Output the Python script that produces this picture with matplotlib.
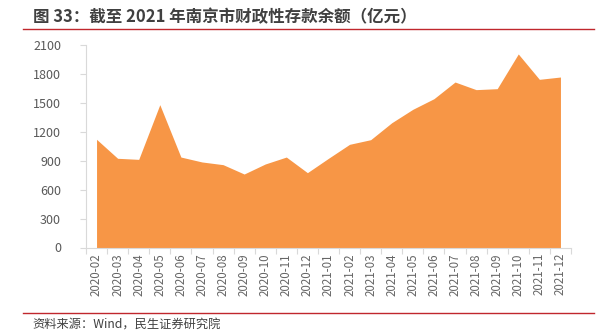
import matplotlib
matplotlib.use("Agg")
import matplotlib.pyplot as plt
from matplotlib.lines import Line2D
import numpy as np

plt.rcParams['font.family'] = ['Noto Sans CJK SC', 'DejaVu Sans']

months = ["2020-02", "2020-03", "2020-04", "2020-05", "2020-06", "2020-07",
          "2020-08", "2020-09", "2020-10", "2020-11", "2020-12", "2021-01",
          "2021-02", "2021-03", "2021-04", "2021-05", "2021-06", "2021-07",
          "2021-08", "2021-09", "2021-10", "2021-11", "2021-12"]
deposits = [1122, 925, 914, 1481, 938, 887, 859, 762, 866, 938, 776, 925,
            1070, 1118, 1294, 1433, 1543, 1716, 1637, 1647, 2007, 1744, 1768]
y_ticks = [0, 300, 600, 900, 1200, 1500, 1800, 2100]

title = "图 33：截至 2021 年南京市财政性存款余额（亿元）"
source = "资料来源：Wind，民生证券研究院"

W, H = 604, 336
fig = plt.figure(figsize=(W / 100, H / 100), dpi=100)
ax = fig.add_axes([86 / W, 1 - 247.5 / H, (571 - 86) / W, (247.5 - 45) / H])

x = np.arange(len(months))
ax.fill_between(x, deposits, 0, color="#F79646", linewidth=0)

ax.set_xlim(-0.5, len(months) - 0.5)
ax.set_ylim(0, 2100)
ax.set_yticks(y_ticks)
ax.set_yticklabels([str(v) for v in y_ticks])

# category ticks sit between the months, labels at the month centres
ax.set_xticks(np.arange(-0.5, len(months), 1.0))
ax.set_xticklabels([])
ax.set_xticks(x, minor=True)
ax.set_xticklabels(months, minor=True, rotation=90)
ax.tick_params(axis='x', which='minor', length=0, pad=4, labelsize=8.3,
               labelcolor="#666666")
ax.tick_params(axis='x', which='major', length=4, color="#D9D9D9", width=0.8)
ax.tick_params(axis='y', length=4, color="#D9D9D9", width=0.8, pad=14,
               labelsize=9, labelcolor="#595959")
for lab in ax.get_yticklabels():
    lab.set_horizontalalignment('right')

for side in ("top", "right"):
    ax.spines[side].set_visible(False)
for side in ("left", "bottom"):
    ax.spines[side].set_color("#D9D9D9")
    ax.spines[side].set_linewidth(0.8)

fig.text(33 / W, 1 - 17 / H, title, fontsize=11.9, fontweight='bold',
         color="#404040", ha='left', va='center')
fig.add_artist(Line2D([23 / W, 594 / W], [1 - 29 / H, 1 - 29 / H],
                      color="#C0272D", linewidth=1.0, transform=fig.transFigure))
fig.add_artist(Line2D([23 / W, 594 / W], [1 - 313 / H, 1 - 313 / H],
                      color="#C0272D", linewidth=1.0, transform=fig.transFigure))
fig.text(32 / W, 1 - 325 / H, source, fontsize=8.8, color="#404040",
         ha='left', va='center')

fig.savefig("out.png", dpi=100)
